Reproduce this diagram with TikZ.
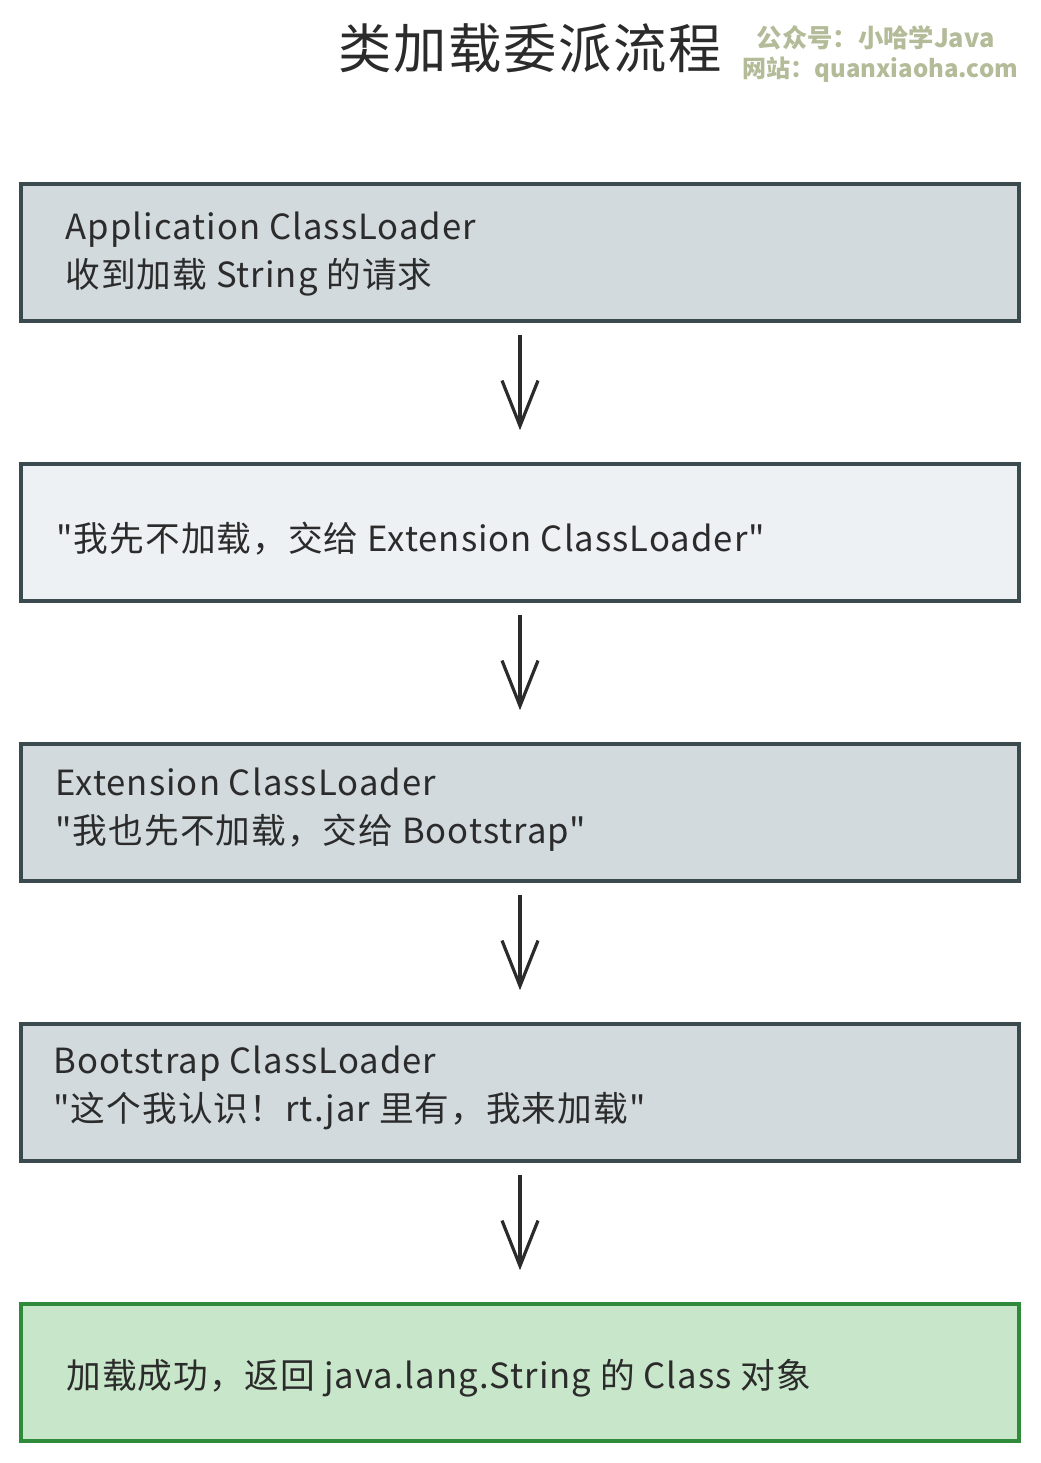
\documentclass[tikz,border=0pt]{standalone}
\usepackage{fontspec}
\setmainfont{Noto Sans CJK SC}
\newfontfamily\handfont{Noto Sans CJK SC}[LetterSpace=3]
\usetikzlibrary{arrows.meta, calc, positioning}
\definecolor{boxgrey}{HTML}{D2DADE}
\definecolor{boxlight}{HTML}{EEF1F3}
\definecolor{boxline}{HTML}{3B4A4F}
\definecolor{okfill}{HTML}{C8E6C9}
\definecolor{okline}{HTML}{2F8A3A}
\definecolor{inkdark}{HTML}{2B2B2B}
\definecolor{markgreen}{HTML}{B3BB98}
\tikzset{
    my-step-box/.style={
        draw=boxline, fill=boxgrey, line width=2.7pt, inner sep=0pt,
        minimum width=748.5pt, minimum height=102.75pt
    },
    my-text/.style={
        text=inkdark, align=left, inner sep=0pt,
        font=\handfont\fontsize{26}{36}\selectfont
    },
    my-flow/.style={
        draw=inkdark, line width=2.4pt, shorten <=9pt, shorten >=24pt,
        -{Straight Barb[length=34pt, width=27pt, line width=2.4pt]}
    },
}

\begin{document}
\begin{tikzpicture}[x=0.75pt, y=-0.75pt]

        \useasboundingbox[fill=white] (0,0) rectangle (1040,1463);

        % TITLE
        \node[text=inkdark, font=\handfont\fontsize{40}{40}\selectfont] (TITLE) at (530,48) {类加载委派流程};
        \node[anchor=west, text=markgreen, font=\bfseries\fontsize{19}{19}\selectfont] (MARK1) at (752,38) {公众号：小哈学Java};
        \node[anchor=west, text=markgreen, font=\bfseries\fontsize{18}{18}\selectfont] (MARK2) at (738,70) {网站：quanxiaoha.com};

        % BOXES
        \node[my-step-box]                  (APP)  at (520,252.5)  {};
        \node[my-step-box, fill=boxlight]   (ASK)  at (520,532.5)  {};
        \node[my-step-box]                  (EXT)  at (520,812.5)  {};
        \node[my-step-box]                  (BOOT) at (520,1092.5) {};
        \node[my-step-box, draw=okline, fill=okfill] (DONE) at (520,1372.5) {};

        % TEXTS
        \node[my-text, anchor=west] (APPTXT)  at ($(APP.west)  + (46,2)$) {Application ClassLoader\\收到加载 String 的请求};
        \node[my-text, anchor=west] (ASKTXT)  at ($(ASK.west)  + (37,6)$) {"我先不加载，交给 Extension ClassLoader"};
        \node[my-text, anchor=west] (EXTTXT)  at ($(EXT.west)  + (36,-3)$) {Extension ClassLoader\\"我也先不加载，交给 Bootstrap"};
        \node[my-text, anchor=west] (BOOTTXT) at ($(BOOT.west) + (34,-5)$) {Bootstrap ClassLoader\\"这个我认识！rt.jar 里有，我来加载"};
        \node[my-text, anchor=west] (DONETXT) at ($(DONE.west) + (47,6)$) {加载成功，返回 java.lang.String 的 Class 对象};

        % ARROWS
        \draw[my-flow] (APP.south)  -- (ASK.north);
        \draw[my-flow] (ASK.south)  -- (EXT.north);
        \draw[my-flow] (EXT.south)  -- (BOOT.north);
        \draw[my-flow] (BOOT.south) -- (DONE.north);

    \end{tikzpicture}
\end{document}
